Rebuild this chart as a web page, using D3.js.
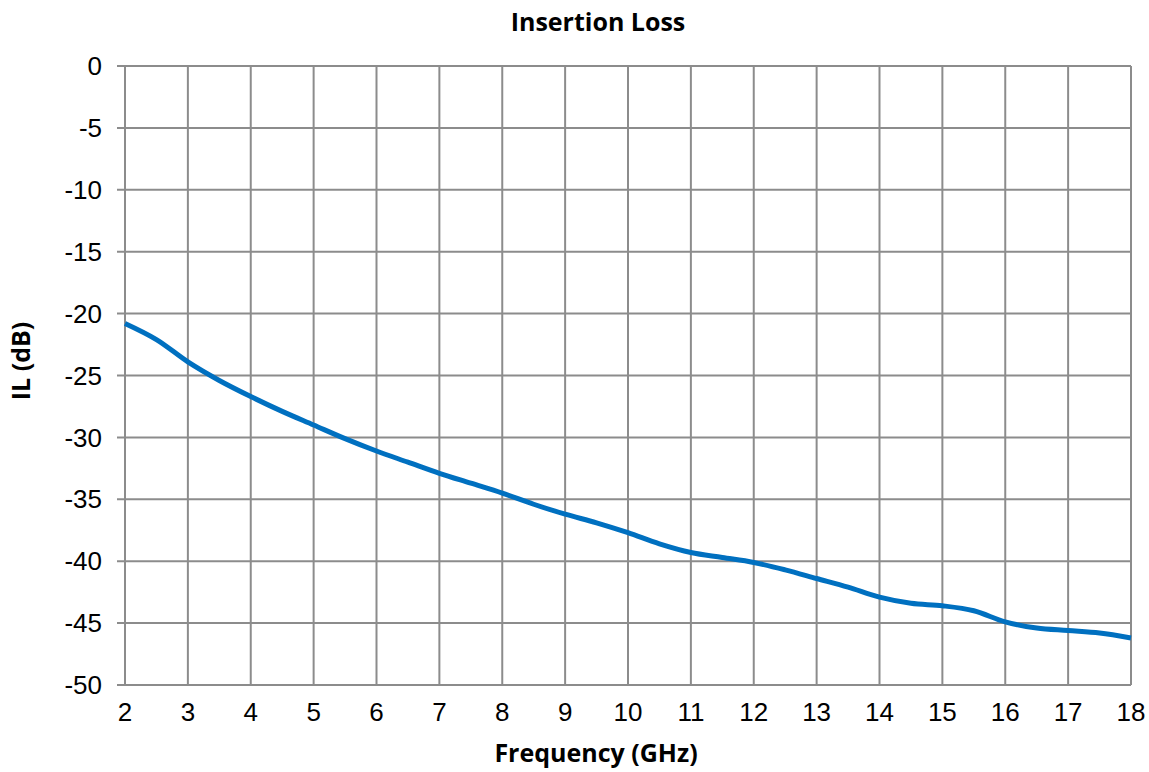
<!DOCTYPE html>
<html>
<head>
<meta charset="utf-8">
<script src="https://cdn.jsdelivr.net/npm/d3@7"></script>
<style>
  body { margin: 0; background: #fff; }
</style>
</head>
<body>
<div id="chart"></div>
<script>
var freq = [2, 2.5, 3, 3.5, 4, 4.5, 5, 5.5, 6, 6.5, 7, 7.5, 8, 8.5, 9, 9.5, 10,
            10.5, 11, 11.5, 12, 12.5, 13, 13.5, 14, 14.5, 15, 15.5, 16, 16.5, 17, 17.5, 18];
var il = [-20.8, -22.1, -23.9, -25.4, -26.7, -27.9, -29.0, -30.1, -31.1, -32.0, -32.9, -33.7, -34.5,
          -35.4, -36.2, -36.9, -37.7, -38.6, -39.3, -39.7, -40.1, -40.7, -41.4, -42.1, -42.9,
          -43.4, -43.6, -44.0, -44.9, -45.4, -45.6, -45.8, -46.2];
var xTicks = d3.range(2, 19, 1);
var yTicks = d3.range(-50, 1, 5);

var W = 1149, H = 772;
var m = { left: 125, right: 18, top: 66, bottom: 87 };

var svg = d3.select("#chart").append("svg")
  .attr("width", W)
  .attr("height", H);

var x = d3.scaleLinear().domain([2, 18]).range([m.left, W - m.right]);
var y = d3.scaleLinear().domain([-50, 0]).range([H - m.bottom, m.top]);

// grid
svg.append("g").selectAll("line.v")
  .data(xTicks).enter().append("line")
  .attr("x1", d => x(d)).attr("x2", d => x(d))
  .attr("y1", y(0)).attr("y2", y(-50))
  .attr("stroke", "#8c8c8c").attr("stroke-width", 2);

svg.append("g").selectAll("line.h")
  .data(yTicks).enter().append("line")
  .attr("x1", x(2) - 8).attr("x2", x(18))
  .attr("y1", d => y(d)).attr("y2", d => y(d))
  .attr("stroke", "#8c8c8c").attr("stroke-width", 2);

// tick labels
svg.append("g").selectAll("text")
  .data(yTicks).enter().append("text")
  .attr("x", x(2) - 23)
  .attr("y", d => y(d))
  .attr("dy", "0.35em")
  .attr("text-anchor", "end")
  .attr("font-family", "Liberation Sans, Arial, sans-serif")
  .attr("font-size", "26px")
  .text(d => d);

svg.append("g").selectAll("text")
  .data(xTicks).enter().append("text")
  .attr("x", d => x(d))
  .attr("y", y(-50) + 27)
  .attr("dy", "0.35em")
  .attr("text-anchor", "middle")
  .attr("font-family", "Liberation Sans, Arial, sans-serif")
  .attr("font-size", "26px")
  .text(d => d);

// series
var line = d3.line()
  .x((d, i) => x(freq[i]))
  .y(d => y(d))
  .curve(d3.curveCatmullRom);

svg.append("path")
  .datum(il)
  .attr("d", line)
  .attr("fill", "none")
  .attr("stroke", "#0070c0")
  .attr("stroke-width", 5);

// titles
svg.append("text")
  .attr("x", 598).attr("y", 31)
  .attr("text-anchor", "middle")
  .attr("font-family", "Open Sans, sans-serif")
  .attr("font-weight", "bold")
  .attr("font-size", "25px")
  .text("Insertion Loss");

svg.append("text")
  .attr("x", 596).attr("y", 762)
  .attr("text-anchor", "middle")
  .attr("font-family", "Open Sans, sans-serif")
  .attr("font-weight", "bold")
  .attr("font-size", "25px")
  .text("Frequency (GHz)");

svg.append("text")
  .attr("transform", "translate(30,361) rotate(-90)")
  .attr("text-anchor", "middle")
  .attr("font-family", "Open Sans, sans-serif")
  .attr("font-weight", "bold")
  .attr("font-size", "25px")
  .text("IL (dB)");
</script>
</body>
</html>
